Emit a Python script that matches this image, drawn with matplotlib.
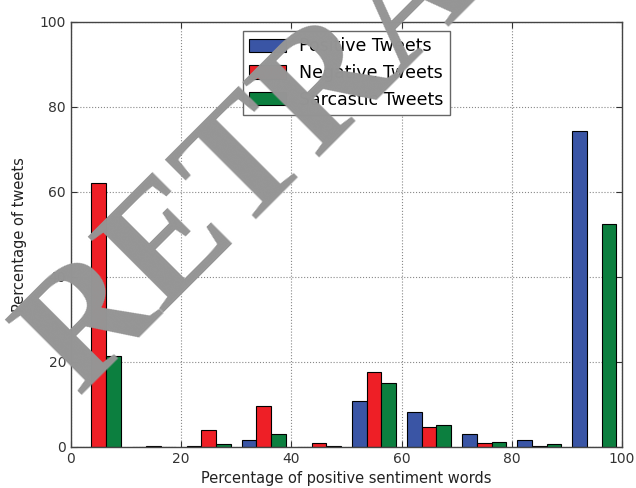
import matplotlib
matplotlib.use("Agg")
import matplotlib.pyplot as plt
import numpy as np

bin_edges = [0, 10, 20, 30, 40, 50, 60, 70, 80, 90, 100]
positive = [0.0, 0.0, 0.2, 1.6, 0.0, 10.8, 8.2, 3.1, 1.6, 74.3]
negative = [62.0, 0.2, 3.9, 9.6, 0.8, 17.6, 4.6, 0.8, 0.2, 0.0]
sarcastic = [21.3, 0.0, 0.6, 3.1, 0.2, 15.1, 5.1, 1.2, 0.6, 52.4]
series_labels = ["Positive Tweets", "Negative Tweets", "Sarcastic Tweets"]
colors = ["#3a55a5", "#ee1f26", "#0c7f3f"]
xticks = [0, 20, 40, 60, 80, 100]
yticks = [0, 20, 40, 60, 80, 100]

fig = plt.figure(figsize=(6.36, 4.88), dpi=100)
ax = fig.add_axes([0.1116, 0.0846, 0.8664, 0.8709])

edges = np.array(bin_edges, dtype=float)
bw = edges[1] - edges[0]
n = 3
w = 0.8 * bw / n
off = 0.1 * bw
for i, (vals, lab, c) in enumerate(zip([positive, negative, sarcastic], series_labels, colors)):
    ax.bar(edges[:-1] + off + i * w, vals, width=w, align="edge", color=c,
           edgecolor="black", linewidth=0.8, label=lab, zorder=2)

ax.set_xlim(0, 100)
ax.set_ylim(0, 100)
ax.set_xticks(xticks)
ax.set_yticks(yticks)
ax.grid(True, linestyle=":", color="#888888", linewidth=0.8, zorder=0)
ax.set_axisbelow(True)
ax.tick_params(direction="in", top=True, right=True, labelsize=10, colors="#333333", length=4)
for s in ax.spines.values():
    s.set_color("#444444")
    s.set_linewidth(1.0)
ax.set_xlabel("Percentage of positive sentiment words", fontsize=10.5, color="#222222", labelpad=4)
ax.set_ylabel("Percentage of tweets", fontsize=10.5, color="#222222", labelpad=9)

leg = ax.legend(loc="upper center", fontsize=12.5, fancybox=False, edgecolor="#666666",
                framealpha=1.0, handlelength=2.1, handleheight=0.8, handletextpad=0.8,
                borderpad=0.35, borderaxespad=0.55)
leg.get_frame().set_linewidth(1.0)

fig.text(78 / 636, 1 - 396 / 488, "RETRACTED", rotation=45, rotation_mode="anchor",
         ha="left", va="baseline", fontsize=118, family="Liberation Serif",
         fontweight="bold", color="#959595", zorder=10)

fig.savefig("out.png", dpi=100)
